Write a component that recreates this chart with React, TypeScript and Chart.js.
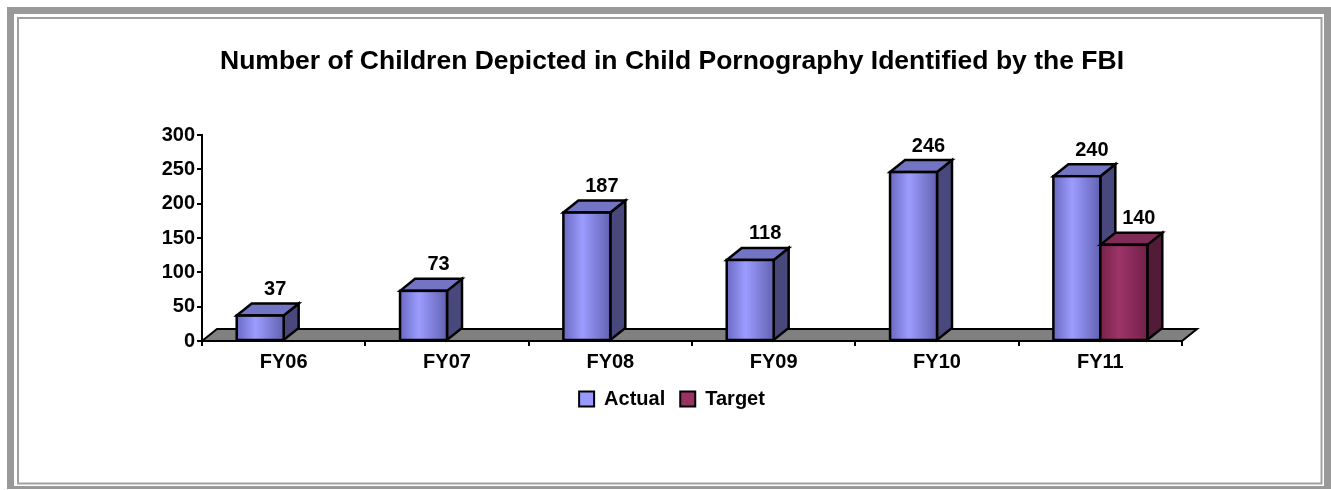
import React, { useEffect, useRef } from 'react';
import { Chart, registerables } from 'chart.js';

Chart.register(...registerables);

const categories = ['FY06', 'FY07', 'FY08', 'FY09', 'FY10', 'FY11'];
const actualValues: (number | null)[] = [37, 73, 187, 118, 246, 240];
const targetValues: (number | null)[] = [null, null, null, null, null, 140];
const seriesNames = ['Actual', 'Target'];
const yMin = 0;
const yMax = 300;
const yStep = 50;
const titleText = 'Number of Children Depicted in Child Pornography Identified by the FBI';

const FONT = "'Liberation Sans', Arial, Helvetica, sans-serif";
const DX = 15;
const DY = -12;

const palettes = [
  { solid: '#9999ff', front: ['#6a6ac2', '#9c9cff', '#6262b2'], side: '#48487c', top: '#7474c4' },
  { solid: '#993366', front: ['#772249', '#9c3468', '#74204a'], side: '#521b37', top: '#7e2b57' },
];

const framePlugin = {
  id: 'frame',
  beforeDraw(chart: any) {
    const ctx = chart.ctx;
    const W = chart.width;
    const H = chart.height;
    ctx.save();
    ctx.fillStyle = '#ffffff';
    ctx.fillRect(0, 0, W, H);
    ctx.fillStyle = '#999999';
    ctx.fillRect(7, 7, W - 7, 7);
    ctx.fillRect(7, 7, 7, 482);
    ctx.fillRect(1324, 7, 7, 482);
    ctx.fillRect(7, 486, W - 7, 3);
    ctx.strokeStyle = '#a0a0a0';
    ctx.lineWidth = 2;
    ctx.strokeRect(18, 18, 1303.5, 465.5);
    ctx.restore();
  },
};

const floorPlugin = {
  id: 'floor3d',
  beforeDatasetsDraw(chart: any) {
    const { ctx, chartArea } = chart;
    const { left, right, bottom } = chartArea;
    ctx.save();
    ctx.beginPath();
    ctx.moveTo(left, bottom);
    ctx.lineTo(left + DX, bottom + DY);
    ctx.lineTo(right + DX, bottom + DY);
    ctx.lineTo(right, bottom);
    ctx.closePath();
    ctx.fillStyle = '#808080';
    ctx.fill();
    ctx.lineWidth = 2;
    ctx.strokeStyle = '#000000';
    ctx.lineJoin = 'miter';
    ctx.stroke();
    ctx.restore();
  },
};

const bars3dPlugin = {
  id: 'bars3d',
  afterDatasetsDraw(chart: any) {
    const ctx = chart.ctx;
    ctx.save();
    ctx.lineWidth = 2.5;
    ctx.strokeStyle = '#000000';
    ctx.lineJoin = 'miter';
    const labels: { x: number; y: number; text: string }[] = [];
    chart.data.datasets.forEach((ds: any, di: number) => {
      const meta = chart.getDatasetMeta(di);
      const pal = palettes[di];
      meta.data.forEach((el: any, i: number) => {
        const v = ds.data[i];
        if (v === null || v === undefined) return;
        const p = el.getProps(['x', 'y', 'base', 'width'], true);
        const L = p.x - p.width / 2;
        const R = p.x + p.width / 2;
        const T = Math.min(p.y, p.base);
        const B = Math.max(p.y, p.base);
        // side face
        ctx.beginPath();
        ctx.moveTo(R, T);
        ctx.lineTo(R + DX, T + DY);
        ctx.lineTo(R + DX, B + DY);
        ctx.lineTo(R, B);
        ctx.closePath();
        ctx.fillStyle = pal.side;
        ctx.fill();
        ctx.stroke();
        // top face
        ctx.beginPath();
        ctx.moveTo(L, T);
        ctx.lineTo(L + DX, T + DY);
        ctx.lineTo(R + DX, T + DY);
        ctx.lineTo(R, T);
        ctx.closePath();
        ctx.fillStyle = pal.top;
        ctx.fill();
        ctx.stroke();
        // front face
        const g = ctx.createLinearGradient(L, 0, R, 0);
        g.addColorStop(0, pal.front[0]);
        g.addColorStop(0.4, pal.front[1]);
        g.addColorStop(1, pal.front[2]);
        ctx.fillStyle = g;
        ctx.fillRect(L, T, R - L, B - T);
        ctx.strokeRect(L, T, R - L, B - T);
        labels.push({ x: p.x + DX, y: T + DY - 4, text: String(v) });
      });
    });
    ctx.fillStyle = '#000000';
    ctx.font = `bold 20px ${FONT}`;
    ctx.textAlign = 'center';
    ctx.textBaseline = 'bottom';
    labels.forEach((l) => ctx.fillText(l.text, l.x, l.y));
    ctx.restore();
  },
};

export default function App() {
  const canvasRef = useRef<HTMLCanvasElement | null>(null);

  useEffect(() => {
    if (!canvasRef.current) return;
    const chart = new Chart(canvasRef.current, {
      type: 'bar',
      data: {
        labels: categories,
        datasets: [
          {
            label: seriesNames[0],
            data: actualValues,
            backgroundColor: palettes[0].solid,
            borderWidth: 0,
            categoryPercentage: 0.575,
            barPercentage: 1,
          },
          {
            label: seriesNames[1],
            data: targetValues,
            backgroundColor: palettes[1].solid,
            borderWidth: 0,
            categoryPercentage: 0.575,
            barPercentage: 1,
          },
        ],
      },
      options: {
        responsive: false,
        animation: false,
        devicePixelRatio: 1,
        layout: { padding: { left: 162, right: 149, top: 0, bottom: 71 } },
        scales: {
          x: {
            offset: true,
            grid: { offset: true, drawOnChartArea: false, drawTicks: true, tickLength: 5, color: '#000', lineWidth: 2 },
            border: { display: true, color: '#000', width: 2 },
            ticks: { color: '#000', font: { family: FONT, size: 20, weight: 'bold' }, padding: 4 },
            afterFit: (scale: any) => {
              scale.height = 33;
            },
          },
          y: {
            min: yMin,
            max: yMax,
            ticks: { stepSize: yStep, color: '#000', font: { family: FONT, size: 20, weight: 'bold' }, padding: 2 },
            grid: { drawOnChartArea: false, drawTicks: true, tickLength: 5, color: '#000', lineWidth: 2 },
            border: { display: true, color: '#000', width: 2 },
            afterFit: (scale: any) => {
              scale.width = 40;
            },
          },
        },
        plugins: {
          title: {
            display: true,
            text: titleText,
            color: '#000',
            font: { family: FONT, size: 26.5, weight: 'bold' },
            padding: { top: 46, bottom: 57.2 },
          },
          legend: {
            display: true,
            position: 'bottom',
            labels: {
              color: '#000',
              font: { family: FONT, size: 20, weight: 'bold' },
              boxWidth: 15,
              boxHeight: 15,
              padding: 15,
              generateLabels: () =>
                seriesNames.map((n, i) => ({
                  text: n,
                  fillStyle: palettes[i].solid,
                  strokeStyle: '#000',
                  lineWidth: 2,
                  hidden: false,
                  datasetIndex: i,
                  fontColor: '#000',
                })),
            },
          },
          tooltip: { enabled: false },
        },
      },
      plugins: [framePlugin, floorPlugin, bars3dPlugin],
    } as any);
    return () => chart.destroy();
  }, []);

  return (
    <div style={{ position: 'absolute', left: 0, top: 0, width: 1331, height: 490 }}>
      <canvas ref={canvasRef} width={1331} height={490} style={{ display: 'block', width: 1331, height: 490 }} />
    </div>
  );
}
